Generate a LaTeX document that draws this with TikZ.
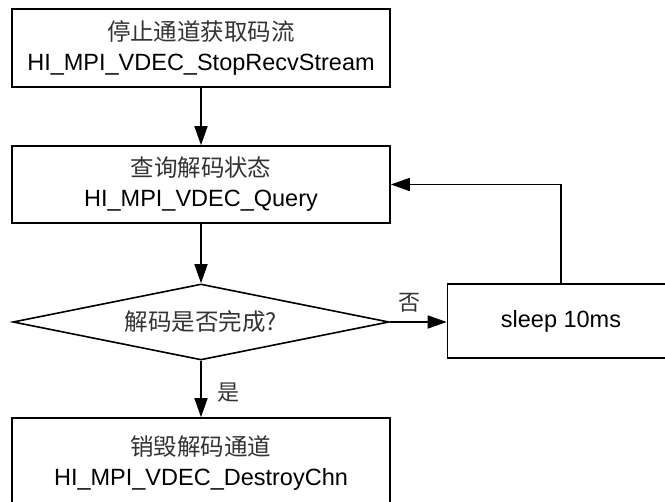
\documentclass[tikz,border=0pt]{standalone}
\usepackage{fontspec}
\setmainfont{Liberation Sans}
\newfontfamily\cjk{Noto Sans CJK SC}
\usetikzlibrary{shapes.geometric,arrows.meta}
\tikzset{
  stepbox/.style={draw, line width=1.6pt, inner sep=0pt, align=center,
    minimum width=378pt, font=\fontsize{23.5}{30}\selectfont},
  decision/.style={draw, line width=1.6pt, diamond, aspect=5, inner sep=0pt,
    minimum width=376pt, minimum height=76pt, font=\fontsize{23.5}{30}\selectfont},
  flow/.style={line width=1.6pt, -{Triangle[length=19pt,width=13pt]}},
  lbl/.style={inner sep=0pt, font=\fontsize{22}{26}\selectfont\cjk, text=black!80},
}
\newcommand{\zh}[1]{{\cjk\color{black!80}#1}}
\begin{document}
\begin{tikzpicture}[x=1pt,y=-1pt]
  \useasboundingbox (0,0) rectangle (665,502);
  \fill[white] (0,0) rectangle (665,502);
  \clip (0,0) rectangle (665,502);

  % process steps
  \node[stepbox, minimum height=78pt] (stop) at (201,48)
    {\zh{停止通道获取码流}\\HI\_MPI\_VDEC\_StopRecvStream};
  \node[stepbox, minimum height=77pt] (query) at (201,184.5)
    {\zh{查询解码状态}\\HI\_MPI\_VDEC\_Query};
  \node[decision] (done) at (201,322) {\zh{解码是否完成?}};
  \node[stepbox, minimum width=227pt, minimum height=74pt] (sleep) at (561,321)
    {sleep 10ms};
  \node[stepbox, minimum height=90pt] (destroy) at (201,463)
    {\zh{销毁解码通道}\\HI\_MPI\_VDEC\_DestroyChn};

  % connectors
  \draw[flow] (stop.south) -- (query.north);
  \draw[flow] (query.south) -- (done.north);
  \draw[flow] (done.east) -- (done.east -| sleep.west);
  \draw[flow] (sleep.north) -- (sleep.north |- query.east) -- (query.east);
  \draw[flow] (done.south) -- (destroy.north);

  % branch labels
  \node[lbl] (no) at (409,303) {否};
  \node[lbl] (yes) at (228,393) {是};
\end{tikzpicture}
\end{document}
